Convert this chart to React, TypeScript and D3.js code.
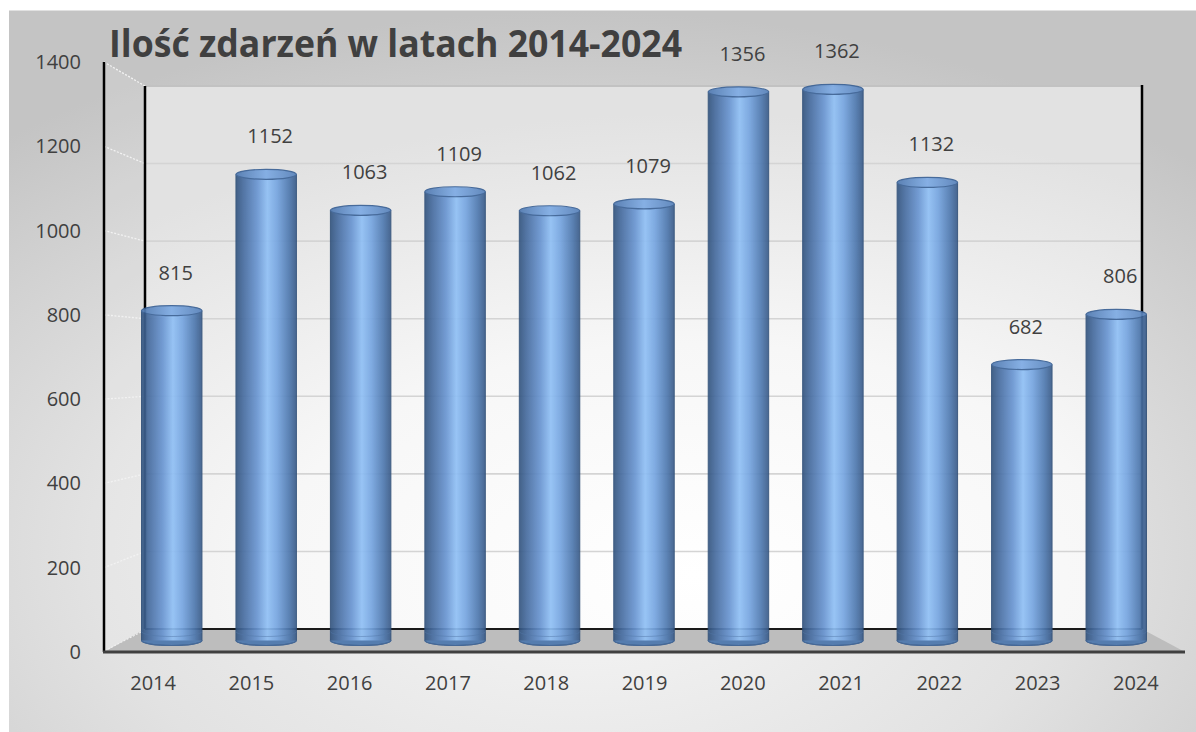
import React from "react";
import * as d3 from "d3";

const years = ["2014", "2015", "2016", "2017", "2018", "2019", "2020", "2021", "2022", "2023", "2024"];
const counts = [815, 1152, 1063, 1109, 1062, 1079, 1356, 1362, 1132, 682, 806];
const yTicks = [0, 200, 400, 600, 800, 1000, 1200, 1400];
const title = "Ilość zdarzeń w latach 2014-2024";

const W = 1196;
const H = 732;
const FONT = "'Open Sans', 'Noto Sans', sans-serif";
const TXT = "#404040";

// front plane, back plane and mid (bar) plane of the 3D box
const yFront = d3.scaleLinear().domain([0, 1400]).range([652, 62]);
const yBack = d3.scaleLinear().domain([0, 1400]).range([629, 86]);
const yMid = d3.scaleLinear().domain([0, 1400]).range([640.5, 74]);
const xFront = d3.scaleBand().domain(years).range([104, 1185]);
const xBack = d3.scaleBand().domain(years).range([145, 1142]);
const xMid = d3.scaleBand().domain(years).range([124.5, 1163.5]).paddingInner(0.36).paddingOuter(0.18);

export default function App() {
  const fx0 = xFront.range()[0];
  const fx1 = xFront.range()[1];
  const bx0 = xBack.range()[0];
  const bx1 = xBack.range()[1];
  const bw = xMid.bandwidth();
  const rx = bw / 2;
  const ry = 5;
  const base = yMid(0);

  return (
    <svg width={W} height={H} style={{ position: "absolute", left: 0, top: 0, display: "block" }}>
      <defs>
        <radialGradient id="bgGrad" cx="48%" cy="75%" r="75%">
          <stop offset="0%" stopColor="#f8f8f8" />
          <stop offset="55%" stopColor="#e2e2e2" />
          <stop offset="100%" stopColor="#c4c4c4" />
        </radialGradient>
        <radialGradient id="wallGrad" cx="55%" cy="90%" r="85%">
          <stop offset="0%" stopColor="#ffffff" />
          <stop offset="50%" stopColor="#f7f7f7" />
          <stop offset="100%" stopColor="#e2e2e2" />
        </radialGradient>
        <linearGradient id="barGrad" x1="0" x2="1" y1="0" y2="0">
          <stop offset="0%" stopColor="#34557f" />
          <stop offset="12%" stopColor="#476c9f" />
          <stop offset="35%" stopColor="#6995d1" />
          <stop offset="52%" stopColor="#90c0f5" />
          <stop offset="68%" stopColor="#76a5e0" />
          <stop offset="88%" stopColor="#4f79af" />
          <stop offset="100%" stopColor="#3a5b88" />
        </linearGradient>
        <linearGradient id="capGrad" x1="0" x2="1" y1="0" y2="0">
          <stop offset="0%" stopColor="#5079b0" />
          <stop offset="50%" stopColor="#7eabe4" />
          <stop offset="100%" stopColor="#5882ba" />
        </linearGradient>
      </defs>

      {/* outer background */}
      <rect x={9} y={11} width={W - 9} height={H - 11} fill="url(#bgGrad)" />
      <line x1={9} x2={W} y1={11} y2={11} stroke="#c4c4c4" strokeWidth={1.2} />

      {/* back wall */}
      <rect x={bx0} y={yBack(1400)} width={bx1 - bx0} height={yBack(0) - yBack(1400)} fill="url(#wallGrad)" />
      {/* side wall */}
      <polygon
        points={`${fx0},${yFront(1400)} ${bx0},${yBack(1400)} ${bx0},${yBack(0)} ${fx0},${yFront(0)}`}
        fill="#ffffff"
        fillOpacity={0.12}
      />
      {/* back wall gridlines */}
      {yTicks.filter((t) => t > 0).map((t) => (
        <line key={"g" + t} x1={bx0} x2={bx1} y1={yBack(t)} y2={yBack(t)}
          stroke={t === 1400 ? "#c2c2c2" : "#d4d4d4"} strokeWidth={t === 1400 ? 2 : 1.6} />
      ))}
      {/* side wall gridlines */}
      {yTicks.filter((t) => t > 0).map((t) => (
        <line key={"s" + t} x1={fx0} x2={bx0} y1={yFront(t)} y2={yBack(t)}
          stroke="#f2f2f2" strokeWidth={1.3} strokeDasharray="2,1.5" />
      ))}
      {/* floor */}
      <polygon
        points={`${fx0},${yFront(0)} ${fx1},${yFront(0)} ${bx1},${yBack(0)} ${bx0},${yBack(0)}`}
        fill="#bdbdbd"
      />
      <line x1={fx0 + 4} x2={bx0 - 4} y1={yFront(0) - 3} y2={yBack(0) + 3} stroke="#efefef" strokeWidth={1.2} strokeDasharray="2,1.5" />
      {/* back wall frame */}
      <line x1={bx0} x2={bx0} y1={yBack(1400)} y2={yBack(0)} stroke="#000" strokeWidth={2.5} />
      <line x1={bx1} x2={bx1} y1={yBack(1400) - 1} y2={yBack(0)} stroke="#000" strokeWidth={2.5} />
      <line x1={bx0} x2={bx1} y1={yBack(0)} y2={yBack(0)} stroke="#1a1a1a" strokeWidth={2} />

      {/* bars */}
      {years.map((yr, i) => {
        const v = counts[i];
        const cx = (xMid(yr) as number) + rx;
        const top = yMid(v);
        return (
          <g key={yr} opacity={0.92}>
            <ellipse cx={cx} cy={base} rx={rx} ry={ry} fill="#4d78ae" stroke="#3b6193" strokeWidth={1} />
            <rect x={cx - rx} y={top} width={bw} height={base - top} fill="url(#barGrad)" />
            <line x1={cx - rx} x2={cx - rx} y1={top} y2={base} stroke="#2f4f78" strokeWidth={1} />
            <line x1={cx + rx} x2={cx + rx} y1={top} y2={base} stroke="#2f4f78" strokeWidth={1} />
            <path
              d={`M${cx - rx},${base} A${rx},${ry} 0 0 0 ${cx + rx},${base}`}
              fill="none" stroke="#3b6193" strokeWidth={1.2}
            />
            <path
              d={`M${cx - rx},${base - 9} A${rx},${ry} 0 0 0 ${cx + rx},${base - 9}`}
              fill="none" stroke="#4a72a6" strokeWidth={0.8} opacity={0.6}
            />
            <ellipse cx={cx} cy={top} rx={rx} ry={ry} fill="url(#capGrad)" stroke="#3a6195" strokeWidth={1.2} />
          </g>
        );
      })}

      {/* front axis */}
      <line x1={fx0} x2={fx0} y1={yFront(1400)} y2={yFront(0)} stroke="#000" strokeWidth={2.5} />
      <line x1={fx0 - 1} x2={fx1} y1={yFront(0)} y2={yFront(0)} stroke="#404040" strokeWidth={3} />

      {/* y tick labels */}
      {yTicks.map((t) => (
        <text key={"y" + t} x={81} y={yFront(t) + 7} textAnchor="end" fontFamily={FONT} fontSize={20} fill={TXT}>
          {t}
        </text>
      ))}
      {/* x tick labels */}
      {years.map((yr) => (
        <text key={"x" + yr} x={(xFront(yr) as number) + xFront.bandwidth() / 2} y={690}
          textAnchor="middle" fontFamily={FONT} fontSize={20} fill={TXT}>
          {yr}
        </text>
      ))}
      {/* data labels */}
      {years.map((yr, i) => (
        <text key={"d" + yr} x={(xMid(yr) as number) + rx + 4} y={yMid(counts[i]) - 31}
          textAnchor="middle" fontFamily={FONT} fontSize={20} fill={TXT}>
          {counts[i]}
        </text>
      ))}

      {/* title */}
      <text x={109} y={57} fontFamily={FONT} fontWeight={700} fontSize={38} fill={TXT}
        textLength={573} lengthAdjust="spacingAndGlyphs">
        {title}
      </text>
    </svg>
  );
}
